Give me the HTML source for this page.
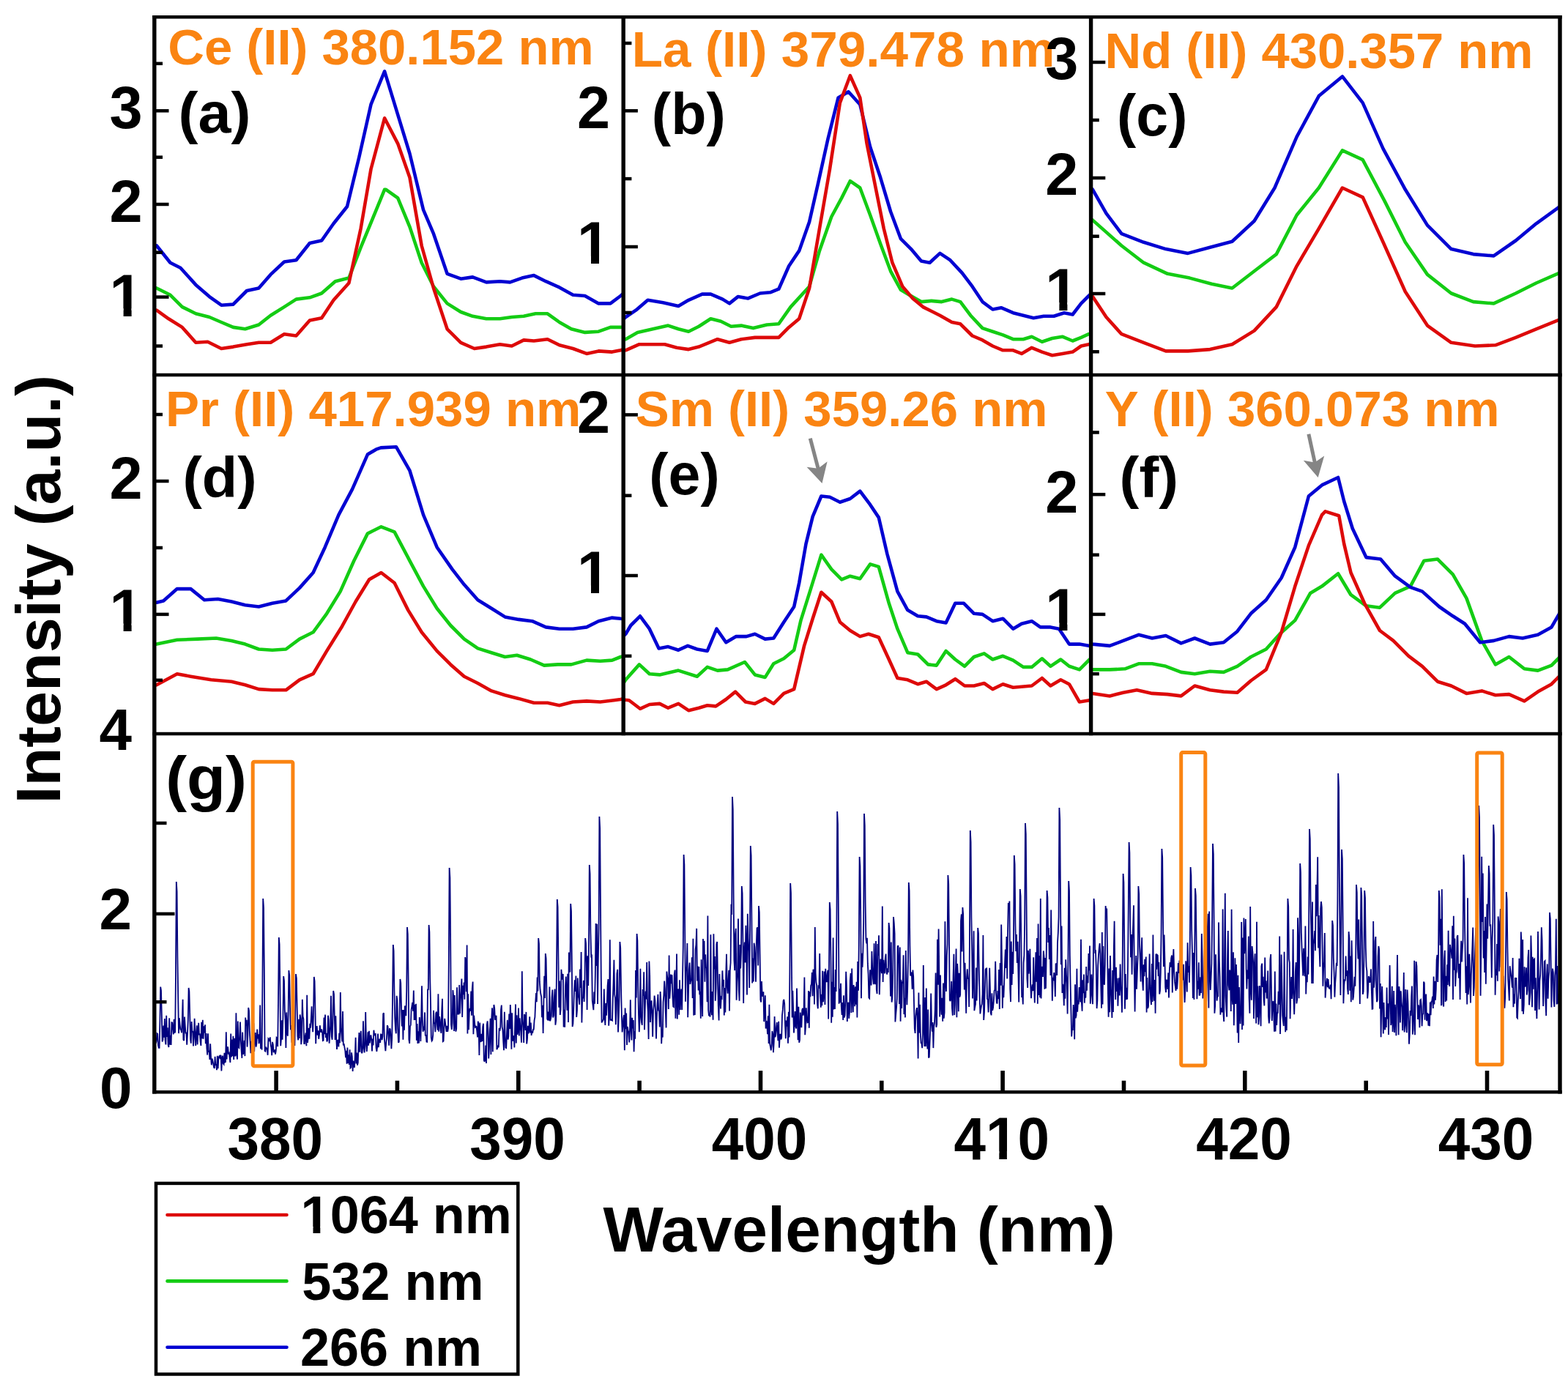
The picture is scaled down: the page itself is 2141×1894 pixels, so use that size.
<!DOCTYPE html><html><head><meta charset="utf-8"><style>html,body{margin:0;padding:0;background:#fff;}svg{display:block}text{font-family:"Liberation Sans",Arial,sans-serif;font-weight:bold}</style></head><body>
<svg width="2141" height="1894" viewBox="0 0 2141 1894">
<rect width="2141" height="1894" fill="#fff"/>
<defs>
<clipPath id="ca"><rect x="210.8" y="23.3" width="640.4000000000001" height="488.7"/></clipPath>
<clipPath id="cb"><rect x="851.2" y="23.3" width="638.3999999999999" height="488.7"/></clipPath>
<clipPath id="cc"><rect x="1489.6" y="23.3" width="640.4000000000001" height="488.7"/></clipPath>
<clipPath id="cd"><rect x="210.8" y="512.0" width="640.4000000000001" height="490.0"/></clipPath>
<clipPath id="ce"><rect x="851.2" y="512.0" width="638.3999999999999" height="490.0"/></clipPath>
<clipPath id="cf"><rect x="1489.6" y="512.0" width="640.4000000000001" height="490.0"/></clipPath>
<clipPath id="cg"><rect x="210.8" y="1002.0" width="1919.2" height="489.20000000000005"/></clipPath>
</defs>
<g clip-path="url(#ca)" fill="none" stroke-width="4.6" stroke-linejoin="round" stroke-linecap="round">
<polyline stroke="#14CC14" points="213.9,393.5 232.5,402.8 248.8,419.1 267.3,428.3 285.9,433.0 302.2,440.0 318.4,446.9 334.7,449.3 353.3,443.5 369.5,430.7 388.1,419.1 404.4,408.6 422.9,406.3 439.2,400.5 457.8,384.2 476.4,379.6 492.6,337.8 508.9,298.3 525.1,258.8 527.0,258.8 543.2,270.4 559.5,309.9 575.7,358.7 592.0,391.2 610.6,414.4 629.2,426.0 645.4,431.8 664.0,435.3 682.6,435.3 698.8,433.0 715.1,431.8 731.3,428.3 747.6,428.3 763.8,440.0 780.1,449.3 798.7,453.9 817.3,452.7 833.5,446.9 847.4,446.9 852.0,446.0"/>
<polyline stroke="#DD0A0A" points="213.9,423.7 230.2,435.3 248.8,446.9 267.3,467.8 283.6,466.7 302.2,476.0 318.4,473.6 337.0,470.2 353.3,467.8 369.5,467.8 388.1,456.2 404.4,458.5 422.9,437.6 439.2,434.2 455.5,409.8 476.4,386.5 492.6,312.2 506.5,231.0 525.1,161.3 543.2,196.1 559.5,242.6 575.7,335.5 592.0,393.5 610.6,449.3 629.2,467.8 647.7,476.0 664.0,473.6 682.6,470.2 698.8,472.5 715.1,464.4 729.0,465.5 747.6,463.2 763.8,471.3 782.4,476.0 801.0,482.9 817.3,479.4 835.8,480.6 847.4,478.3 852.0,477.0"/>
<polyline stroke="#0303D2" points="213.9,335.5 232.5,358.7 246.4,365.7 267.3,388.9 285.9,405.1 302.2,416.7 318.4,415.6 337.0,397.0 353.3,393.5 369.5,374.9 388.1,357.5 404.4,355.2 422.9,332.0 439.2,328.5 455.5,305.3 474.0,282.0 490.3,214.7 506.5,142.7 525.1,97.4 543.2,156.6 559.5,210.0 578.1,286.7 592.0,319.2 610.6,373.8 629.2,380.7 645.4,378.4 664.0,385.4 682.6,384.2 696.5,385.4 712.8,379.6 729.0,376.1 745.3,384.2 763.8,392.4 782.4,402.8 798.7,404.0 817.3,414.4 833.5,414.4 847.4,404.0 852.0,400.0"/>
</g>
<g clip-path="url(#cb)" fill="none" stroke-width="4.6" stroke-linejoin="round" stroke-linecap="round">
<polyline stroke="#14CC14" points="850.0,464.0 854.3,463.2 870.5,453.9 891.4,449.3 912.3,444.6 926.3,449.3 940.2,452.7 954.2,445.8 970.4,435.3 984.3,438.8 998.3,445.8 1012.2,444.6 1028.5,448.1 1047.0,443.5 1063.3,442.3 1079.6,419.1 1105.1,391.2 1119.0,342.4 1135.3,296.0 1149.2,270.4 1160.8,247.2 1174.3,256.5 1188.2,293.7 1202.2,333.1 1216.1,370.3 1230.0,395.8 1241.6,402.8 1257.9,412.1 1271.8,410.9 1285.8,412.1 1299.7,408.6 1311.3,412.1 1325.2,430.7 1341.5,448.1 1355.4,452.7 1369.4,457.4 1383.3,463.2 1397.2,463.2 1408.8,459.7 1422.8,466.7 1436.7,462.0 1450.6,459.7 1464.6,465.5 1476.2,460.9 1486.6,456.2 1491.0,455.0"/>
<polyline stroke="#0303D2" points="850.0,437.0 854.3,433.0 868.2,423.7 884.5,409.8 905.4,413.3 926.3,417.9 940.2,409.8 958.8,401.6 970.4,401.6 986.7,408.6 996.0,414.4 1007.6,405.1 1021.5,407.4 1037.8,400.5 1051.7,399.3 1063.3,394.7 1077.2,363.3 1091.2,342.4 1105.1,303.0 1116.7,251.9 1130.6,189.2 1144.6,133.4 1158.5,125.3 1174.3,142.7 1188.2,200.8 1202.2,242.6 1216.1,289.0 1230.0,326.2 1244.0,340.1 1257.9,356.4 1269.5,358.7 1283.4,345.9 1297.4,355.2 1313.6,372.6 1327.6,391.2 1341.5,412.1 1355.4,422.5 1367.0,420.2 1383.3,427.2 1397.2,430.7 1411.2,434.2 1425.1,431.8 1439.0,431.8 1453.0,427.2 1464.6,429.5 1476.2,414.4 1486.6,404.0 1491.0,400.0"/>
<polyline stroke="#DD0A0A" points="850.0,479.0 854.3,478.3 872.9,470.2 891.4,470.2 907.7,470.2 924.0,474.8 940.2,477.1 954.2,473.6 979.7,463.2 996.0,467.8 1012.2,463.2 1030.8,460.9 1047.0,460.9 1063.3,460.9 1077.2,446.9 1091.2,435.3 1105.1,393.5 1119.0,312.2 1133.0,231.0 1146.9,140.4 1160.8,103.2 1174.3,133.4 1183.6,196.1 1195.2,254.2 1206.8,312.2 1218.4,358.7 1232.3,391.2 1246.3,407.4 1260.2,419.1 1283.4,430.7 1299.7,440.0 1311.3,442.3 1327.6,458.5 1341.5,464.4 1355.4,472.5 1369.4,478.3 1383.3,478.3 1394.9,482.9 1408.8,474.8 1422.8,480.6 1436.7,485.2 1450.6,482.9 1464.6,480.6 1476.2,472.5 1486.6,470.2 1491.0,469.0"/>
</g>
<g clip-path="url(#cc)" fill="none" stroke-width="4.6" stroke-linejoin="round" stroke-linecap="round">
<polyline stroke="#DD0A0A" points="1488.0,402.0 1492.0,405.1 1510.5,433.0 1531.4,456.2 1561.6,467.8 1591.8,479.4 1622.0,479.4 1652.2,477.1 1682.4,470.2 1712.6,451.6 1742.8,419.1 1770.6,363.3 1800.8,312.2 1832.9,256.5 1860.7,269.3 1888.6,330.8 1918.8,398.2 1949.0,444.6 1981.5,467.8 2014.0,472.5 2041.9,471.3 2069.7,460.9 2097.6,449.3 2126.6,437.6 2131.0,436.0"/>
<polyline stroke="#14CC14" points="1488.0,298.0 1492.0,300.6 1531.4,335.5 1561.6,358.7 1594.2,373.8 1624.3,379.6 1654.5,387.7 1682.4,393.5 1712.6,370.3 1742.8,347.1 1770.6,293.7 1800.8,256.5 1832.9,205.4 1860.7,218.2 1890.9,275.1 1918.8,330.8 1949.0,374.9 1981.5,400.5 2011.7,412.1 2039.6,414.4 2069.7,400.5 2097.6,386.5 2126.6,373.8 2131.0,372.0"/>
<polyline stroke="#0303D2" points="1488.0,255.0 1492.0,258.8 1510.5,291.3 1531.4,319.2 1561.6,330.8 1591.8,340.1 1622.0,345.9 1652.2,337.8 1682.4,329.7 1712.6,301.8 1740.5,256.5 1770.6,186.8 1800.8,131.1 1832.9,104.4 1860.7,140.4 1888.6,203.1 1918.8,258.8 1949.0,307.6 1981.5,340.1 2011.7,347.1 2039.6,349.4 2069.7,328.5 2097.6,305.3 2126.6,284.4 2131.0,281.0"/>
</g>
<g clip-path="url(#cd)" fill="none" stroke-width="4.6" stroke-linejoin="round" stroke-linecap="round">
<polyline stroke="#DD0A0A" points="213.9,935.3 241.8,920.2 260.4,923.7 288.2,928.3 316.1,930.7 334.7,935.3 353.3,941.1 371.9,942.3 390.4,942.3 409.0,928.3 427.6,920.2 446.2,888.9 467.1,855.2 485.6,821.5 504.2,791.3 520.5,782.0 538.6,796.0 557.2,833.1 575.7,863.3 596.6,888.9 615.2,907.4 633.8,923.7 652.4,933.0 671.0,943.4 689.5,949.3 708.1,953.9 729.0,959.7 747.6,959.7 763.8,963.2 782.4,958.5 801.0,957.4 819.6,958.5 838.2,956.2 847.4,955.0 852.0,954.0"/>
<polyline stroke="#14CC14" points="213.9,879.6 241.8,873.8 269.7,872.6 295.2,871.5 316.1,874.9 334.7,879.6 353.3,886.5 371.9,887.7 390.4,886.5 409.0,872.6 427.6,863.3 446.2,837.8 464.7,807.6 483.3,765.8 501.9,728.6 520.5,719.3 538.6,726.3 559.5,765.8 578.1,800.6 596.6,830.8 615.2,854.0 633.8,872.6 652.4,885.4 671.0,891.2 689.5,897.0 705.8,894.7 724.4,900.5 743.0,908.6 761.5,907.4 780.1,907.4 801.0,901.6 819.6,902.8 835.8,901.6 847.4,897.0 852.0,896.0"/>
<polyline stroke="#0303D2" points="213.9,822.7 223.2,820.4 241.8,804.1 260.4,804.1 279.0,819.2 297.5,818.0 316.1,821.5 334.7,826.2 353.3,828.5 371.9,823.8 390.4,820.4 409.0,802.9 427.6,782.0 443.8,747.2 462.4,703.1 481.0,668.2 501.9,620.6 513.5,613.7 520.0,611.4 540.9,610.2 559.5,642.7 578.1,703.1 596.6,747.2 617.5,777.4 633.8,798.3 652.4,819.2 671.0,830.8 689.5,842.4 708.1,845.9 726.7,848.2 745.3,856.4 763.8,858.7 782.4,858.7 801.0,856.4 817.3,848.2 835.8,843.6 847.4,844.7 852.0,845.0"/>
</g>
<g clip-path="url(#ce)" fill="none" stroke-width="4.6" stroke-linejoin="round" stroke-linecap="round">
<polyline stroke="#DD0A0A" points="845.0,955.0 858.9,956.2 874.0,967.8 886.8,962.0 900.7,960.9 912.3,966.7 926.3,960.9 940.2,970.2 954.2,966.7 965.8,963.2 977.4,964.4 991.3,955.0 1004.1,944.6 1018.0,958.5 1030.8,960.9 1044.7,953.9 1056.3,960.9 1070.3,946.9 1084.2,941.1 1098.1,881.9 1109.7,844.7 1121.4,808.8 1135.3,821.5 1146.9,849.4 1160.8,861.0 1174.3,869.1 1185.9,865.7 1199.8,870.3 1213.8,900.5 1225.4,926.0 1239.3,928.3 1253.2,934.2 1264.9,930.7 1278.8,941.1 1291.6,935.3 1304.3,927.2 1317.1,936.5 1329.9,936.5 1343.8,933.0 1355.4,941.1 1369.4,934.2 1383.3,938.8 1408.8,936.5 1422.8,926.0 1434.4,936.5 1448.3,928.3 1459.9,934.2 1473.9,958.5 1487.8,956.2 1491.0,956.0"/>
<polyline stroke="#14CC14" points="850.0,935.0 854.3,928.3 872.9,907.4 886.8,920.2 900.7,921.4 926.3,915.6 951.8,923.7 965.8,910.9 979.7,915.6 993.6,914.4 1016.9,904.0 1030.8,921.4 1044.7,924.9 1056.3,906.3 1070.3,899.3 1084.2,887.7 1093.5,847.1 1107.4,802.9 1121.4,757.7 1135.3,777.4 1149.2,791.3 1160.8,786.7 1174.3,790.2 1188.2,770.4 1199.8,773.9 1213.8,823.8 1225.4,858.7 1239.3,891.2 1253.2,893.5 1267.2,907.4 1278.8,908.6 1291.6,888.9 1304.3,900.5 1317.1,909.8 1329.9,897.0 1343.8,892.4 1355.4,900.5 1369.4,895.8 1383.3,901.6 1397.2,910.9 1408.8,910.9 1422.8,899.3 1434.4,909.8 1448.3,900.5 1459.9,909.8 1473.9,914.4 1487.8,900.5 1491.0,898.0"/>
<polyline stroke="#0303D2" points="850.0,870.0 854.3,865.7 861.3,854.0 874.0,841.3 886.8,858.7 899.6,885.4 912.3,883.1 926.3,887.7 939.1,881.9 951.8,886.5 965.8,888.9 978.5,858.7 991.3,877.3 1005.2,869.1 1019.2,869.1 1030.8,865.7 1044.7,872.6 1056.3,871.5 1070.3,849.4 1084.2,828.5 1091.2,796.0 1100.5,742.6 1109.7,705.4 1121.4,677.5 1133.0,678.7 1146.9,685.7 1160.8,681.0 1174.3,670.6 1188.2,689.2 1199.8,706.6 1211.4,756.5 1225.4,807.6 1239.3,833.1 1253.2,841.3 1264.9,842.4 1278.8,848.2 1291.6,850.5 1304.3,823.8 1316.0,823.8 1329.9,837.8 1341.5,838.9 1355.4,848.2 1369.4,844.7 1383.3,858.7 1394.9,851.7 1408.8,848.2 1420.5,856.4 1434.4,856.4 1446.0,858.7 1459.9,879.6 1473.9,879.6 1487.8,881.9 1491.0,882.0"/>
</g>
<g clip-path="url(#cf)" fill="none" stroke-width="4.6" stroke-linejoin="round" stroke-linecap="round">
<polyline stroke="#14CC14" points="1488.0,914.0 1492.0,914.4 1515.2,914.4 1536.1,913.3 1554.7,906.3 1573.2,906.3 1591.8,909.8 1612.7,917.9 1631.3,920.2 1652.2,916.7 1670.8,917.9 1689.4,909.8 1708.0,897.0 1728.8,886.5 1747.4,865.7 1768.3,847.1 1789.2,809.9 1805.0,800.6 1827.1,783.2 1844.5,812.2 1865.4,827.3 1884.0,829.7 1904.9,809.9 1925.8,800.6 1944.3,765.8 1962.9,763.5 1983.8,784.4 2002.4,816.9 2023.3,874.9 2041.9,907.4 2060.5,897.0 2081.4,913.3 2099.9,915.6 2118.5,908.6 2126.6,900.5 2131.0,896.0"/>
<polyline stroke="#DD0A0A" points="1488.0,946.0 1492.0,946.9 1515.2,950.4 1533.8,945.8 1552.3,942.3 1573.2,946.9 1594.2,948.1 1612.7,950.4 1631.3,936.5 1652.2,942.3 1670.8,944.6 1689.4,945.8 1708.0,929.5 1728.8,914.4 1749.7,863.3 1768.3,800.6 1786.9,744.9 1805.0,703.1 1809.6,698.4 1828.2,704.2 1835.2,742.6 1844.5,782.0 1863.1,823.8 1884.0,861.0 1902.5,874.9 1923.4,895.8 1942.0,909.8 1962.9,930.7 1981.5,936.5 2002.4,946.9 2023.3,943.4 2041.9,949.3 2060.5,948.1 2081.4,957.4 2099.9,944.6 2118.5,934.2 2126.6,926.0 2131.0,922.0"/>
<polyline stroke="#0303D2" points="1488.0,879.0 1492.0,879.6 1515.2,881.9 1533.8,874.9 1554.7,866.8 1573.2,871.5 1591.8,868.0 1612.7,878.4 1631.3,871.5 1652.2,879.6 1670.8,877.3 1689.4,862.2 1708.0,837.8 1728.8,819.2 1749.7,789.0 1768.3,747.2 1786.9,677.5 1805.0,662.4 1827.1,652.0 1835.2,684.5 1846.8,721.7 1865.4,761.1 1885.1,763.5 1904.9,786.7 1925.8,801.8 1942.0,807.6 1965.2,828.5 1983.8,841.3 2000.1,851.7 2021.0,877.3 2039.6,874.9 2060.5,869.1 2079.0,871.5 2099.9,866.8 2118.5,856.4 2126.6,842.4 2131.0,835.0"/>
</g>
<g clip-path="url(#cg)"><polyline fill="none" stroke="#00007E" stroke-width="1.8" stroke-linejoin="miter" stroke-miterlimit="3" points="212.0,1424.8 212.8,1424.3 213.6,1422.1 214.4,1411.2 215.2,1411.9 216.0,1427.3 216.8,1430.8 217.6,1430.8 218.4,1394.0 219.2,1347.6 220.0,1352.7 220.8,1385.6 221.6,1422.5 222.4,1419.6 223.2,1400.6 224.0,1416.7 224.8,1391.0 225.6,1420.8 226.4,1426.4 227.2,1386.7 228.0,1416.0 228.8,1403.4 229.6,1426.6 230.4,1430.1 231.2,1390.2 232.0,1426.6 232.8,1413.7 233.6,1427.0 234.4,1396.2 235.2,1396.4 236.0,1405.7 236.8,1412.4 237.6,1391.9 238.4,1410.5 239.2,1409.0 240.0,1329.1 240.8,1204.0 241.6,1217.6 242.4,1306.3 243.2,1360.8 244.0,1411.1 244.8,1390.1 245.6,1399.0 246.4,1405.5 247.2,1406.4 248.0,1410.3 248.8,1392.7 249.6,1364.7 250.4,1419.8 251.2,1421.0 252.0,1388.5 252.8,1401.4 253.6,1411.5 254.4,1409.7 255.2,1426.7 256.0,1411.1 256.8,1393.0 257.6,1349.0 258.4,1353.8 259.2,1385.0 260.0,1418.8 260.8,1424.7 261.6,1395.0 262.4,1408.8 263.2,1408.7 264.0,1428.5 264.8,1417.2 265.6,1390.8 266.4,1410.9 267.2,1428.0 268.0,1411.7 268.8,1400.2 269.6,1426.4 270.4,1407.5 271.2,1396.8 272.0,1413.5 272.8,1411.3 273.6,1422.3 274.4,1427.9 275.2,1395.8 276.0,1418.3 276.8,1392.8 277.6,1418.6 278.4,1401.3 279.2,1410.4 280.0,1399.2 280.8,1425.2 281.6,1411.0 282.4,1431.6 283.2,1440.6 284.0,1411.3 284.8,1436.7 285.6,1434.7 286.4,1446.9 287.2,1425.4 288.0,1443.6 288.8,1454.3 289.6,1445.6 290.4,1448.5 291.2,1452.4 292.0,1457.2 292.8,1459.0 293.6,1442.9 294.4,1454.8 295.2,1453.2 296.0,1461.2 296.8,1441.7 297.6,1459.2 298.4,1445.1 299.2,1442.5 300.0,1441.8 300.8,1446.2 301.6,1440.7 302.4,1462.4 303.2,1445.3 304.0,1441.6 304.8,1452.3 305.6,1453.4 306.4,1437.7 307.2,1450.5 308.0,1450.0 308.8,1409.2 309.6,1446.4 310.4,1430.1 311.2,1430.1 312.0,1439.6 312.8,1438.3 313.6,1444.1 314.4,1451.0 315.2,1411.4 316.0,1443.4 316.8,1419.6 317.6,1442.2 318.4,1414.8 319.2,1446.9 320.0,1417.8 320.8,1442.3 321.6,1441.0 322.4,1383.2 323.2,1439.1 324.0,1446.6 324.8,1394.4 325.6,1430.2 326.4,1431.0 327.2,1416.3 328.0,1395.5 328.8,1419.6 329.6,1434.3 330.4,1444.9 331.2,1409.5 332.0,1439.9 332.8,1436.7 333.6,1420.7 334.4,1442.1 335.2,1389.6 336.0,1401.0 336.8,1392.7 337.6,1429.6 338.4,1412.2 339.2,1376.0 340.0,1380.2 340.8,1407.8 341.6,1423.5 342.4,1438.1 343.2,1421.7 344.0,1430.1 344.8,1430.9 345.6,1397.0 346.4,1397.6 347.2,1436.0 348.0,1416.4 348.8,1410.0 349.6,1429.5 350.4,1424.8 351.2,1405.6 352.0,1418.5 352.8,1412.4 353.6,1425.1 354.4,1420.3 355.2,1372.5 356.0,1432.2 356.8,1420.0 357.6,1433.6 358.4,1345.4 359.2,1227.0 360.0,1239.9 360.8,1323.9 361.6,1435.0 362.4,1435.6 363.2,1429.6 364.0,1431.9 364.8,1432.4 365.6,1440.8 366.4,1418.4 367.2,1419.3 368.0,1422.1 368.8,1416.4 369.6,1426.8 370.4,1430.6 371.2,1441.2 372.0,1422.9 372.8,1426.1 373.6,1437.3 374.4,1434.2 375.2,1434.1 376.0,1439.5 376.8,1435.0 377.6,1416.7 378.4,1417.2 379.2,1429.3 380.0,1367.1 380.8,1280.0 381.6,1289.5 382.4,1351.3 383.2,1428.2 384.0,1418.1 384.8,1393.4 385.6,1419.7 386.4,1389.7 387.2,1333.0 388.0,1339.2 388.8,1379.3 389.6,1392.8 390.4,1430.9 391.2,1382.4 392.0,1408.9 392.8,1414.7 393.6,1385.0 394.4,1325.0 395.2,1331.5 396.0,1374.1 396.8,1406.2 397.6,1400.0 398.4,1423.6 399.2,1396.7 400.0,1416.4 400.8,1417.6 401.6,1421.9 402.4,1428.0 403.2,1384.5 404.0,1330.0 404.8,1335.9 405.6,1374.5 406.4,1415.1 407.2,1420.3 408.0,1391.9 408.8,1418.0 409.6,1385.5 410.4,1390.6 411.2,1426.2 412.0,1418.4 412.8,1364.8 413.6,1388.0 414.4,1391.3 415.2,1425.0 416.0,1425.1 416.8,1414.8 417.6,1410.5 418.4,1428.2 419.2,1358.8 420.0,1424.0 420.8,1416.6 421.6,1403.9 422.4,1418.8 423.2,1397.9 424.0,1403.7 424.8,1390.9 425.6,1374.2 426.4,1395.3 427.2,1409.1 428.0,1386.2 428.8,1334.0 429.6,1339.7 430.4,1376.8 431.2,1425.2 432.0,1402.2 432.8,1402.0 433.6,1413.6 434.4,1407.2 435.2,1418.8 436.0,1412.9 436.8,1400.2 437.6,1407.2 438.4,1409.7 439.2,1405.5 440.0,1409.4 440.8,1421.0 441.6,1420.6 442.4,1389.4 443.2,1412.3 444.0,1385.6 444.8,1417.0 445.6,1410.7 446.4,1422.5 447.2,1420.2 448.0,1386.7 448.8,1393.1 449.6,1424.8 450.4,1411.8 451.2,1400.1 452.0,1359.8 452.8,1415.7 453.6,1419.8 454.4,1396.3 455.2,1353.0 456.0,1357.7 456.8,1388.4 457.6,1420.1 458.4,1387.2 459.2,1417.9 460.0,1433.0 460.8,1421.4 461.6,1419.9 462.4,1429.5 463.2,1410.9 464.0,1424.2 464.8,1355.1 465.6,1403.2 466.4,1413.0 467.2,1422.5 468.0,1381.1 468.8,1427.4 469.6,1425.2 470.4,1430.1 471.2,1434.0 472.0,1444.2 472.8,1434.9 473.6,1452.8 474.4,1430.6 475.2,1451.9 476.0,1440.3 476.8,1453.9 477.6,1433.3 478.4,1458.4 479.2,1457.6 480.0,1437.4 480.8,1442.9 481.6,1463.0 482.4,1448.6 483.2,1455.4 484.0,1457.7 484.8,1441.4 485.6,1416.7 486.4,1452.5 487.2,1437.5 488.0,1454.6 488.8,1451.1 489.6,1424.9 490.4,1410.1 491.2,1436.8 492.0,1417.2 492.8,1407.8 493.6,1436.8 494.4,1438.2 495.2,1430.5 496.0,1394.3 496.8,1429.9 497.6,1437.3 498.4,1427.8 499.2,1381.9 500.0,1421.4 500.8,1435.9 501.6,1425.5 502.4,1409.3 503.2,1427.8 504.0,1407.7 504.8,1424.5 505.6,1418.7 506.4,1413.4 507.2,1418.7 508.0,1435.5 508.8,1418.6 509.6,1427.4 510.4,1406.7 511.2,1413.3 512.0,1412.1 512.8,1411.9 513.6,1431.2 514.4,1435.9 515.2,1429.2 516.0,1411.5 516.8,1430.2 517.6,1421.9 518.4,1418.7 519.2,1423.9 520.0,1412.4 520.8,1412.6 521.6,1420.2 522.4,1415.2 523.2,1384.3 524.0,1383.2 524.8,1417.2 525.6,1426.9 526.4,1435.1 527.2,1424.7 528.0,1417.6 528.8,1400.0 529.6,1401.9 530.4,1414.9 531.2,1427.6 532.0,1404.3 532.8,1405.6 533.6,1415.4 534.4,1432.1 535.2,1418.4 536.0,1367.2 536.8,1290.0 537.6,1298.4 538.4,1353.1 539.2,1389.9 540.0,1405.2 540.8,1411.3 541.6,1359.8 542.4,1365.5 543.2,1404.2 544.0,1423.8 544.8,1422.6 545.6,1385.4 546.4,1337.0 547.2,1342.3 548.0,1376.6 548.8,1401.5 549.6,1379.1 550.4,1419.8 551.2,1379.0 552.0,1406.8 552.8,1373.4 553.6,1377.4 554.4,1387.2 555.2,1353.5 556.0,1266.0 556.8,1275.5 557.6,1337.5 558.4,1419.6 559.2,1424.9 560.0,1401.3 560.8,1399.8 561.6,1378.6 562.4,1374.3 563.2,1368.9 564.0,1380.6 564.8,1352.5 565.6,1392.9 566.4,1371.8 567.2,1392.9 568.0,1370.7 568.8,1420.7 569.6,1398.0 570.4,1424.9 571.2,1408.4 572.0,1424.5 572.8,1389.1 573.6,1401.3 574.4,1421.9 575.2,1388.1 576.0,1346.2 576.8,1392.6 577.6,1408.8 578.4,1401.6 579.2,1407.0 580.0,1382.4 580.8,1414.6 581.6,1413.0 582.4,1422.6 583.2,1422.8 584.0,1350.6 584.8,1352.1 585.6,1263.0 586.4,1272.7 587.2,1335.9 588.0,1370.5 588.8,1417.0 589.6,1421.4 590.4,1420.1 591.2,1413.2 592.0,1379.8 592.8,1396.7 593.6,1397.6 594.4,1409.3 595.2,1383.7 596.0,1381.5 596.8,1398.4 597.6,1406.6 598.4,1357.3 599.2,1408.7 600.0,1388.1 600.8,1392.9 601.6,1405.1 602.4,1410.8 603.2,1381.0 604.0,1363.7 604.8,1422.2 605.6,1421.6 606.4,1403.8 607.2,1390.8 608.0,1396.7 608.8,1402.6 609.6,1409.0 610.4,1400.9 611.2,1408.8 612.0,1404.2 612.8,1312.7 613.6,1185.0 614.4,1198.9 615.2,1289.5 616.0,1399.3 616.8,1405.9 617.6,1396.9 618.4,1352.1 619.2,1360.8 620.0,1408.0 620.8,1359.1 621.6,1398.4 622.4,1408.6 623.2,1404.9 624.0,1348.2 624.8,1384.1 625.6,1383.1 626.4,1385.6 627.2,1345.1 628.0,1384.1 628.8,1365.0 629.6,1353.6 630.4,1336.5 631.2,1388.9 632.0,1345.7 632.8,1358.2 633.6,1341.5 634.4,1364.8 635.2,1307.0 636.0,1313.3 636.8,1354.3 637.6,1290.5 638.4,1411.6 639.2,1357.3 640.0,1406.3 640.8,1383.0 641.6,1376.9 642.4,1380.5 643.2,1353.6 644.0,1386.8 644.8,1349.8 645.6,1340.6 646.4,1412.3 647.2,1386.7 648.0,1395.8 648.8,1402.9 649.6,1402.4 650.4,1401.0 651.2,1407.3 652.0,1416.5 652.8,1394.6 653.6,1402.7 654.4,1440.9 655.2,1396.5 656.0,1421.0 656.8,1423.0 657.6,1411.7 658.4,1422.0 659.2,1402.1 660.0,1397.7 660.8,1447.8 661.6,1449.7 662.4,1446.6 663.2,1427.6 664.0,1452.0 664.8,1399.5 665.6,1394.3 666.4,1405.6 667.2,1445.4 668.0,1432.0 668.8,1408.9 669.6,1390.7 670.4,1439.9 671.2,1391.7 672.0,1376.4 672.8,1436.2 673.6,1391.2 674.4,1372.0 675.2,1376.6 676.0,1392.6 676.8,1391.4 677.6,1386.7 678.4,1433.3 679.2,1431.2 680.0,1428.9 680.8,1430.2 681.6,1403.8 682.4,1407.8 683.2,1403.7 684.0,1378.7 684.8,1372.5 685.6,1402.5 686.4,1406.3 687.2,1421.7 688.0,1434.3 688.8,1381.7 689.6,1411.9 690.4,1430.6 691.2,1431.0 692.0,1412.2 692.8,1392.8 693.6,1419.5 694.4,1415.1 695.2,1384.6 696.0,1405.1 696.8,1372.1 697.6,1388.8 698.4,1432.7 699.2,1383.3 700.0,1421.7 700.8,1416.2 701.6,1414.5 702.4,1430.4 703.2,1398.2 704.0,1371.4 704.8,1424.4 705.6,1386.2 706.4,1412.8 707.2,1407.7 708.0,1376.6 708.8,1414.4 709.6,1390.2 710.4,1401.3 711.2,1408.3 712.0,1423.8 712.8,1326.2 713.6,1391.6 714.4,1404.0 715.2,1424.0 716.0,1385.1 716.8,1387.3 717.6,1407.0 718.4,1381.9 719.2,1425.4 720.0,1418.6 720.8,1400.8 721.6,1411.4 722.4,1405.1 723.2,1388.4 724.0,1410.5 724.8,1396.5 725.6,1413.9 726.4,1407.8 727.2,1410.7 728.0,1405.6 728.8,1405.6 729.6,1393.1 730.4,1389.0 731.2,1368.8 732.0,1356.0 732.8,1368.2 733.6,1334.6 734.4,1353.6 735.2,1281.0 736.0,1288.9 736.8,1340.4 737.6,1351.7 738.4,1357.5 739.2,1361.0 740.0,1389.2 740.8,1372.7 741.6,1411.0 742.4,1367.1 743.2,1332.8 744.0,1363.1 744.8,1302.0 745.6,1308.7 746.4,1351.2 747.2,1391.4 748.0,1393.1 748.8,1381.5 749.6,1393.6 750.4,1347.6 751.2,1394.4 752.0,1391.0 752.8,1387.4 753.6,1362.0 754.4,1351.6 755.2,1389.5 756.0,1386.6 756.8,1363.3 757.6,1350.6 758.4,1399.7 759.2,1393.1 760.0,1325.1 760.8,1228.0 761.6,1238.6 762.4,1307.5 763.2,1375.8 764.0,1339.4 764.8,1386.0 765.6,1378.6 766.4,1323.8 767.2,1333.6 768.0,1337.5 768.8,1329.9 769.6,1402.4 770.4,1378.7 771.2,1402.8 772.0,1346.8 772.8,1333.6 773.6,1356.5 774.4,1379.8 775.2,1329.8 776.0,1395.9 776.8,1300.5 777.6,1325.2 778.4,1327.5 779.2,1234.0 780.0,1244.2 780.8,1310.5 781.6,1402.0 782.4,1398.0 783.2,1379.7 784.0,1353.8 784.8,1338.3 785.6,1354.0 786.4,1332.5 787.2,1389.0 788.0,1379.8 788.8,1335.6 789.6,1360.2 790.4,1362.6 791.2,1371.8 792.0,1323.4 792.8,1348.9 793.6,1300.0 794.4,1396.6 795.2,1362.3 796.0,1362.4 796.8,1338.7 797.6,1368.0 798.4,1342.4 799.2,1281.0 800.0,1287.7 800.8,1315.2 801.6,1378.9 802.4,1305.2 803.2,1346.1 804.0,1293.2 804.8,1181.0 805.6,1193.2 806.4,1272.8 807.2,1306.0 808.0,1305.2 808.8,1366.4 809.6,1372.8 810.4,1379.1 811.2,1354.5 812.0,1370.7 812.8,1331.9 813.6,1261.1 814.4,1319.1 815.2,1261.8 816.0,1371.1 816.8,1311.0 817.6,1266.6 818.4,1115.0 819.2,1131.5 820.0,1239.0 820.8,1335.5 821.6,1396.4 822.4,1394.4 823.2,1393.9 824.0,1391.5 824.8,1350.5 825.6,1389.7 826.4,1400.0 827.2,1369.8 828.0,1386.6 828.8,1371.1 829.6,1346.1 830.4,1337.0 831.2,1400.7 832.0,1383.6 832.8,1283.3 833.6,1393.5 834.4,1392.4 835.2,1393.1 836.0,1393.6 836.8,1364.5 837.6,1341.5 838.4,1310.7 839.2,1358.2 840.0,1362.8 840.8,1399.3 841.6,1378.4 842.4,1329.5 843.2,1323.8 844.0,1409.4 844.8,1388.9 845.6,1361.0 846.4,1286.0 847.2,1294.2 848.0,1347.4 848.8,1384.8 849.6,1409.4 850.4,1402.2 851.2,1390.8 852.0,1385.9 852.8,1434.3 853.6,1376.6 854.4,1405.2 855.2,1383.5 856.0,1427.0 856.8,1402.0 857.6,1406.9 858.4,1410.0 859.2,1423.4 860.0,1407.0 860.8,1365.3 861.6,1403.7 862.4,1420.5 863.2,1389.7 864.0,1404.5 864.8,1393.1 865.6,1436.3 866.4,1408.2 867.2,1418.8 868.0,1325.0 868.8,1362.5 869.6,1275.0 870.4,1284.5 871.2,1346.6 872.0,1385.5 872.8,1409.1 873.6,1390.5 874.4,1322.7 875.2,1385.7 876.0,1395.9 876.8,1399.7 877.6,1351.0 878.4,1359.6 879.2,1327.2 880.0,1406.2 880.8,1375.9 881.6,1353.5 882.4,1364.4 883.2,1314.1 884.0,1368.3 884.8,1381.7 885.6,1419.0 886.4,1312.6 887.2,1332.5 888.0,1396.0 888.8,1376.1 889.6,1366.4 890.4,1384.3 891.2,1415.7 892.0,1380.2 892.8,1373.1 893.6,1359.5 894.4,1366.0 895.2,1386.1 896.0,1418.6 896.8,1389.3 897.6,1371.1 898.4,1357.7 899.2,1379.7 900.0,1381.0 900.8,1402.4 901.6,1354.0 902.4,1366.8 903.2,1425.3 904.0,1405.8 904.8,1416.6 905.6,1368.7 906.4,1358.9 907.2,1339.6 908.0,1350.4 908.8,1381.7 909.6,1403.4 910.4,1326.6 911.2,1334.5 912.0,1339.6 912.8,1377.9 913.6,1304.5 914.4,1363.6 915.2,1350.6 916.0,1330.6 916.8,1343.3 917.6,1331.2 918.4,1360.8 919.2,1374.6 920.0,1375.1 920.8,1330.5 921.6,1324.6 922.4,1390.7 923.2,1361.4 924.0,1302.4 924.8,1391.5 925.6,1352.3 926.4,1350.6 927.2,1385.7 928.0,1338.2 928.8,1379.0 929.6,1356.8 930.4,1350.6 931.2,1379.1 932.0,1336.2 932.8,1292.5 933.6,1167.0 934.4,1180.7 935.2,1269.7 936.0,1367.7 936.8,1326.4 937.6,1320.2 938.4,1288.0 939.2,1389.3 940.0,1354.2 940.8,1324.2 941.6,1314.5 942.4,1344.1 943.2,1339.5 944.0,1337.8 944.8,1307.3 945.6,1362.9 946.4,1281.8 947.2,1386.6 948.0,1369.8 948.8,1386.0 949.6,1296.6 950.4,1290.0 951.2,1267.9 952.0,1339.5 952.8,1319.5 953.6,1352.6 954.4,1319.9 955.2,1356.5 956.0,1355.6 956.8,1390.7 957.6,1310.3 958.4,1356.1 959.2,1388.1 960.0,1282.0 960.8,1310.1 961.6,1284.7 962.4,1340.7 963.2,1303.4 964.0,1320.9 964.8,1321.6 965.6,1368.3 966.4,1250.4 967.2,1379.1 968.0,1387.1 968.8,1385.2 969.6,1388.6 970.4,1276.3 971.2,1378.8 972.0,1386.2 972.8,1354.1 973.6,1392.8 974.4,1275.2 975.2,1323.5 976.0,1306.1 976.8,1366.7 977.6,1350.0 978.4,1289.0 979.2,1286.0 980.0,1338.9 980.8,1373.7 981.6,1393.5 982.4,1330.0 983.2,1364.2 984.0,1377.4 984.8,1362.0 985.6,1363.0 986.4,1325.4 987.2,1347.0 988.0,1337.8 988.8,1386.5 989.6,1349.1 990.4,1382.6 991.2,1331.9 992.0,1302.8 992.8,1347.4 993.6,1356.6 994.4,1340.1 995.2,1324.7 996.0,1380.6 996.8,1324.5 997.6,1314.7 998.4,1234.7 999.2,1249.1 1000.0,1088.0 1000.8,1105.6 1001.6,1219.8 1002.4,1311.0 1003.2,1325.2 1004.0,1276.0 1004.8,1267.8 1005.6,1365.7 1006.4,1341.5 1007.2,1328.3 1008.0,1254.5 1008.8,1351.7 1009.6,1366.7 1010.4,1290.1 1011.2,1322.4 1012.0,1300.2 1012.8,1210.0 1013.6,1219.8 1014.4,1282.1 1015.2,1369.9 1016.0,1298.6 1016.8,1286.5 1017.6,1314.5 1018.4,1263.8 1019.2,1288.5 1020.0,1358.5 1020.8,1247.7 1021.6,1281.3 1022.4,1299.6 1023.2,1348.9 1024.0,1269.2 1024.8,1155.0 1025.6,1168.2 1026.4,1253.9 1027.2,1342.4 1028.0,1308.6 1028.8,1340.6 1029.6,1287.7 1030.4,1293.0 1031.2,1312.5 1032.0,1340.7 1032.8,1289.9 1033.6,1267.2 1034.4,1266.8 1035.2,1318.4 1036.0,1237.0 1036.8,1245.9 1037.6,1303.6 1038.4,1365.5 1039.2,1368.5 1040.0,1340.1 1040.8,1360.5 1041.6,1359.4 1042.4,1354.3 1043.2,1395.1 1044.0,1380.4 1044.8,1359.2 1045.6,1404.6 1046.4,1394.0 1047.2,1396.9 1048.0,1412.1 1048.8,1387.3 1049.6,1424.9 1050.4,1371.7 1051.2,1425.3 1052.0,1429.8 1052.8,1434.3 1053.6,1427.8 1054.4,1408.0 1055.2,1411.8 1056.0,1437.2 1056.8,1422.2 1057.6,1388.1 1058.4,1416.2 1059.2,1413.8 1060.0,1403.1 1060.8,1396.0 1061.6,1408.6 1062.4,1421.3 1063.2,1394.8 1064.0,1430.7 1064.8,1415.0 1065.6,1411.9 1066.4,1419.4 1067.2,1416.9 1068.0,1386.3 1068.8,1378.9 1069.6,1366.5 1070.4,1364.8 1071.2,1370.7 1072.0,1399.2 1072.8,1418.1 1073.6,1393.6 1074.4,1401.7 1075.2,1388.3 1076.0,1424.8 1076.8,1381.8 1077.6,1416.5 1078.4,1327.6 1079.2,1206.0 1080.0,1219.3 1080.8,1305.5 1081.6,1389.4 1082.4,1352.8 1083.2,1379.8 1084.0,1410.5 1084.8,1397.8 1085.6,1381.1 1086.4,1401.5 1087.2,1404.5 1088.0,1349.5 1088.8,1384.3 1089.6,1420.3 1090.4,1374.7 1091.2,1423.8 1092.0,1420.2 1092.8,1382.5 1093.6,1394.5 1094.4,1403.2 1095.2,1379.3 1096.0,1376.9 1096.8,1386.7 1097.6,1379.3 1098.4,1334.5 1099.2,1413.2 1100.0,1402.6 1100.8,1376.4 1101.6,1391.2 1102.4,1396.5 1103.2,1396.2 1104.0,1353.0 1104.8,1403.7 1105.6,1354.3 1106.4,1361.2 1107.2,1345.6 1108.0,1343.9 1108.8,1327.9 1109.6,1360.2 1110.4,1323.8 1111.2,1327.8 1112.0,1371.4 1112.8,1266.1 1113.6,1328.8 1114.4,1341.5 1115.2,1345.7 1116.0,1370.5 1116.8,1377.3 1117.6,1345.3 1118.4,1349.6 1119.2,1302.1 1120.0,1360.6 1120.8,1375.8 1121.6,1357.7 1122.4,1373.2 1123.2,1325.8 1124.0,1368.3 1124.8,1357.0 1125.6,1326.4 1126.4,1371.9 1127.2,1322.8 1128.0,1340.1 1128.8,1340.2 1129.6,1330.2 1130.4,1324.7 1131.2,1391.4 1132.0,1322.8 1132.8,1232.0 1133.6,1241.9 1134.4,1306.3 1135.2,1396.8 1136.0,1340.7 1136.8,1388.8 1137.6,1280.5 1138.4,1378.5 1139.2,1348.1 1140.0,1378.0 1140.8,1323.9 1141.6,1353.9 1142.4,1267.0 1143.2,1108.0 1144.0,1125.3 1144.8,1238.1 1145.6,1370.8 1146.4,1350.4 1147.2,1369.1 1148.0,1342.7 1148.8,1374.3 1149.6,1385.9 1150.4,1369.0 1151.2,1393.0 1152.0,1359.2 1152.8,1389.5 1153.6,1386.2 1154.4,1365.7 1155.2,1326.8 1156.0,1348.9 1156.8,1394.9 1157.6,1371.2 1158.4,1368.9 1159.2,1390.8 1160.0,1381.9 1160.8,1338.8 1161.6,1328.9 1162.4,1383.0 1163.2,1322.6 1164.0,1360.0 1164.8,1382.3 1165.6,1345.1 1166.4,1352.7 1167.2,1374.3 1168.0,1347.3 1168.8,1371.8 1169.6,1340.8 1170.4,1389.4 1171.2,1313.0 1172.0,1352.8 1172.8,1290.2 1173.6,1170.0 1174.4,1183.1 1175.2,1248.3 1176.0,1363.3 1176.8,1301.7 1177.6,1320.6 1178.4,1298.8 1179.2,1259.5 1180.0,1111.0 1180.8,1127.2 1181.6,1232.5 1182.4,1282.2 1183.2,1288.4 1184.0,1280.8 1184.8,1315.9 1185.6,1330.2 1186.4,1362.5 1187.2,1363.4 1188.0,1324.2 1188.8,1334.0 1189.6,1345.6 1190.4,1299.1 1191.2,1321.0 1192.0,1336.5 1192.8,1344.2 1193.6,1288.2 1194.4,1341.7 1195.2,1344.0 1196.0,1285.1 1196.8,1351.2 1197.6,1357.1 1198.4,1289.1 1199.2,1304.9 1200.0,1277.2 1200.8,1358.2 1201.6,1332.7 1202.4,1309.6 1203.2,1322.1 1204.0,1329.1 1204.8,1237.4 1205.6,1340.9 1206.4,1310.7 1207.2,1325.5 1208.0,1329.4 1208.8,1308.5 1209.6,1302.6 1210.4,1327.6 1211.2,1330.6 1212.0,1322.3 1212.8,1327.9 1213.6,1260.0 1214.4,1267.6 1215.2,1317.3 1216.0,1360.4 1216.8,1286.6 1217.6,1368.6 1218.4,1363.0 1219.2,1331.2 1220.0,1252.0 1220.8,1260.6 1221.6,1275.0 1222.4,1395.5 1223.2,1385.4 1224.0,1375.9 1224.8,1363.9 1225.6,1292.8 1226.4,1291.1 1227.2,1316.0 1228.0,1371.0 1228.8,1293.5 1229.6,1394.8 1230.4,1337.8 1231.2,1377.1 1232.0,1340.3 1232.8,1342.7 1233.6,1304.3 1234.4,1385.1 1235.2,1362.9 1236.0,1389.4 1236.8,1298.1 1237.6,1345.7 1238.4,1372.2 1239.2,1350.8 1240.0,1310.6 1240.8,1205.0 1241.6,1216.5 1242.4,1291.4 1243.2,1332.6 1244.0,1328.2 1244.8,1328.4 1245.6,1350.6 1246.4,1324.6 1247.2,1333.9 1248.0,1369.8 1248.8,1404.8 1249.6,1411.0 1250.4,1387.2 1251.2,1379.3 1252.0,1376.1 1252.8,1393.4 1253.6,1445.5 1254.4,1355.5 1255.2,1410.6 1256.0,1371.8 1256.8,1410.8 1257.6,1424.2 1258.4,1424.8 1259.2,1431.2 1260.0,1412.0 1260.8,1317.9 1261.6,1401.3 1262.4,1428.9 1263.2,1362.1 1264.0,1429.0 1264.8,1349.5 1265.6,1418.6 1266.4,1432.5 1267.2,1378.4 1268.0,1444.6 1268.8,1443.2 1269.6,1422.4 1270.4,1398.2 1271.2,1356.4 1272.0,1396.4 1272.8,1408.7 1273.6,1395.9 1274.4,1431.1 1275.2,1402.3 1276.0,1396.6 1276.8,1378.2 1277.6,1328.6 1278.4,1402.7 1279.2,1398.7 1280.0,1282.7 1280.8,1344.7 1281.6,1268.5 1282.4,1329.7 1283.2,1388.4 1284.0,1331.6 1284.8,1372.2 1285.6,1385.8 1286.4,1362.7 1287.2,1394.8 1288.0,1342.4 1288.8,1390.7 1289.6,1382.6 1290.4,1258.2 1291.2,1340.4 1292.0,1353.9 1292.8,1304.6 1293.6,1289.3 1294.4,1195.0 1295.2,1207.1 1296.0,1285.9 1296.8,1365.6 1297.6,1367.2 1298.4,1362.4 1299.2,1340.1 1300.0,1376.8 1300.8,1386.8 1301.6,1333.2 1302.4,1302.7 1303.2,1386.1 1304.0,1372.0 1304.8,1328.2 1305.6,1295.6 1306.4,1389.2 1307.2,1315.9 1308.0,1331.9 1308.8,1381.2 1309.6,1328.8 1310.4,1361.4 1311.2,1358.4 1312.0,1257.6 1312.8,1248.4 1313.6,1299.6 1314.4,1239.0 1315.2,1248.5 1316.0,1310.1 1316.8,1351.5 1317.6,1314.8 1318.4,1350.1 1319.2,1383.8 1320.0,1335.6 1320.8,1323.2 1321.6,1336.0 1322.4,1336.4 1323.2,1374.9 1324.0,1278.7 1324.8,1134.0 1325.6,1149.8 1326.4,1252.4 1327.2,1297.0 1328.0,1363.6 1328.8,1330.7 1329.6,1271.2 1330.4,1380.2 1331.2,1375.2 1332.0,1371.2 1332.8,1321.5 1333.6,1366.5 1334.4,1338.5 1335.2,1267.0 1336.0,1274.8 1336.8,1325.5 1337.6,1361.1 1338.4,1384.5 1339.2,1378.7 1340.0,1373.6 1340.8,1371.1 1341.6,1357.3 1342.4,1277.1 1343.2,1392.9 1344.0,1382.2 1344.8,1352.1 1345.6,1324.0 1346.4,1322.6 1347.2,1322.4 1348.0,1364.1 1348.8,1365.4 1349.6,1382.4 1350.4,1357.7 1351.2,1321.7 1352.0,1352.3 1352.8,1383.3 1353.6,1386.4 1354.4,1356.3 1355.2,1379.7 1356.0,1376.3 1356.8,1367.8 1357.6,1353.1 1358.4,1351.6 1359.2,1312.8 1360.0,1355.7 1360.8,1368.8 1361.6,1370.5 1362.4,1353.1 1363.2,1364.1 1364.0,1323.9 1364.8,1377.9 1365.6,1315.0 1366.4,1345.8 1367.2,1262.5 1368.0,1310.0 1368.8,1376.8 1369.6,1345.8 1370.4,1362.3 1371.2,1340.5 1372.0,1316.2 1372.8,1296.5 1373.6,1322.0 1374.4,1278.9 1375.2,1336.5 1376.0,1275.7 1376.8,1233.0 1377.6,1241.5 1378.4,1230.6 1379.2,1350.3 1380.0,1368.1 1380.8,1285.4 1381.6,1345.0 1382.4,1299.8 1383.2,1330.0 1384.0,1281.3 1384.8,1168.0 1385.6,1180.4 1386.4,1260.7 1387.2,1299.1 1388.0,1276.0 1388.8,1315.1 1389.6,1285.8 1390.4,1327.8 1391.2,1368.6 1392.0,1302.0 1392.8,1214.0 1393.6,1223.6 1394.4,1286.0 1395.2,1361.9 1396.0,1356.5 1396.8,1371.4 1397.6,1314.9 1398.4,1304.7 1399.2,1261.5 1400.0,1124.0 1400.8,1139.0 1401.6,1236.5 1402.4,1335.9 1403.2,1348.9 1404.0,1297.8 1404.8,1329.7 1405.6,1315.1 1406.4,1295.7 1407.2,1344.8 1408.0,1363.1 1408.8,1351.3 1409.6,1344.4 1410.4,1353.2 1411.2,1307.2 1412.0,1345.9 1412.8,1369.5 1413.6,1334.3 1414.4,1300.2 1415.2,1340.7 1416.0,1281.0 1416.8,1370.7 1417.6,1261.6 1418.4,1359.1 1419.2,1305.1 1420.0,1362.3 1420.8,1227.1 1421.6,1363.6 1422.4,1326.3 1423.2,1319.8 1424.0,1334.0 1424.8,1298.4 1425.6,1307.4 1426.4,1350.7 1427.2,1308.1 1428.0,1349.7 1428.8,1297.0 1429.6,1216.0 1430.4,1225.5 1431.2,1287.1 1432.0,1266.9 1432.8,1310.0 1433.6,1277.1 1434.4,1332.0 1435.2,1242.5 1436.0,1320.2 1436.8,1366.8 1437.6,1336.5 1438.4,1337.5 1439.2,1328.0 1440.0,1334.1 1440.8,1361.0 1441.6,1316.2 1442.4,1316.1 1443.2,1331.9 1444.0,1287.6 1444.8,1274.1 1445.6,1252.0 1446.4,1103.0 1447.2,1119.3 1448.0,1224.9 1448.8,1317.2 1449.6,1264.6 1450.4,1355.9 1451.2,1343.9 1452.0,1351.9 1452.8,1373.3 1453.6,1321.8 1454.4,1363.7 1455.2,1310.3 1456.0,1331.1 1456.8,1343.3 1457.6,1384.5 1458.4,1315.3 1459.2,1203.0 1460.0,1216.5 1460.8,1304.5 1461.6,1344.2 1462.4,1379.2 1463.2,1415.4 1464.0,1404.4 1464.8,1407.0 1465.6,1372.1 1466.4,1387.1 1467.2,1419.3 1468.0,1344.3 1468.8,1390.3 1469.6,1386.4 1470.4,1322.7 1471.2,1381.7 1472.0,1366.2 1472.8,1371.4 1473.6,1348.9 1474.4,1348.6 1475.2,1368.4 1476.0,1282.7 1476.8,1367.1 1477.6,1380.8 1478.4,1338.2 1479.2,1356.1 1480.0,1330.6 1480.8,1369.6 1481.6,1354.4 1482.4,1362.7 1483.2,1319.9 1484.0,1352.8 1484.8,1332.2 1485.6,1342.4 1486.4,1301.9 1487.2,1325.2 1488.0,1291.5 1488.8,1370.7 1489.6,1353.6 1490.4,1330.5 1491.2,1359.9 1492.0,1371.2 1492.8,1316.1 1493.6,1227.0 1494.4,1236.7 1495.2,1299.9 1496.0,1299.0 1496.8,1322.3 1497.6,1377.1 1498.4,1366.3 1499.2,1318.6 1500.0,1304.3 1500.8,1294.9 1501.6,1288.1 1502.4,1302.6 1503.2,1344.7 1504.0,1376.7 1504.8,1272.9 1505.6,1371.4 1506.4,1292.0 1507.2,1341.4 1508.0,1344.7 1508.8,1317.6 1509.6,1237.0 1510.4,1246.1 1511.2,1240.6 1512.0,1296.7 1512.8,1350.7 1513.6,1388.7 1514.4,1322.6 1515.2,1382.3 1516.0,1305.1 1516.8,1345.7 1517.6,1368.1 1518.4,1389.9 1519.2,1325.0 1520.0,1381.9 1520.8,1297.6 1521.6,1257.8 1522.4,1331.7 1523.2,1365.1 1524.0,1320.8 1524.8,1354.0 1525.6,1335.7 1526.4,1373.7 1527.2,1351.8 1528.0,1335.4 1528.8,1359.4 1529.6,1316.4 1530.4,1347.1 1531.2,1355.1 1532.0,1382.6 1532.8,1301.8 1533.6,1193.0 1534.4,1204.9 1535.2,1282.0 1536.0,1377.8 1536.8,1330.0 1537.6,1365.2 1538.4,1348.9 1539.2,1364.8 1540.0,1318.9 1540.8,1237.8 1541.6,1150.0 1542.4,1164.3 1543.2,1257.5 1544.0,1307.3 1544.8,1276.1 1545.6,1330.8 1546.4,1282.4 1547.2,1261.9 1548.0,1236.2 1548.8,1323.4 1549.6,1381.6 1550.4,1336.1 1551.2,1305.0 1552.0,1350.8 1552.8,1328.2 1553.6,1308.4 1554.4,1210.0 1555.2,1220.7 1556.0,1290.5 1556.8,1310.8 1557.6,1340.4 1558.4,1298.6 1559.2,1280.3 1560.0,1339.1 1560.8,1352.8 1561.6,1317.3 1562.4,1333.1 1563.2,1309.7 1564.0,1327.2 1564.8,1306.5 1565.6,1382.6 1566.4,1335.1 1567.2,1377.1 1568.0,1374.4 1568.8,1348.7 1569.6,1302.6 1570.4,1345.4 1571.2,1364.5 1572.0,1372.2 1572.8,1315.9 1573.6,1368.0 1574.4,1276.6 1575.2,1355.2 1576.0,1366.8 1576.8,1338.1 1577.6,1383.7 1578.4,1302.4 1579.2,1323.8 1580.0,1303.9 1580.8,1304.7 1581.6,1332.9 1582.4,1313.7 1583.2,1357.6 1584.0,1352.8 1584.8,1328.4 1585.6,1273.1 1586.4,1159.0 1587.2,1171.4 1588.0,1252.4 1588.8,1320.1 1589.6,1276.6 1590.4,1309.2 1591.2,1348.1 1592.0,1355.1 1592.8,1337.6 1593.6,1340.8 1594.4,1351.0 1595.2,1328.4 1596.0,1362.6 1596.8,1326.0 1597.6,1314.0 1598.4,1320.6 1599.2,1308.4 1600.0,1304.4 1600.8,1355.5 1601.6,1314.0 1602.4,1296.1 1603.2,1326.7 1604.0,1340.9 1604.8,1346.8 1605.6,1353.0 1606.4,1326.8 1607.2,1350.6 1608.0,1338.0 1608.8,1315.1 1609.6,1328.9 1610.4,1311.5 1611.2,1335.4 1612.0,1316.5 1612.8,1364.6 1613.6,1313.2 1614.4,1324.8 1615.2,1338.5 1616.0,1316.8 1616.8,1345.4 1617.6,1368.9 1618.4,1351.5 1619.2,1312.3 1620.0,1323.1 1620.8,1354.4 1621.6,1287.3 1622.4,1327.8 1623.2,1319.2 1624.0,1341.7 1624.8,1289.0 1625.6,1184.0 1626.4,1195.5 1627.2,1270.0 1628.0,1301.4 1628.8,1363.0 1629.6,1301.0 1630.4,1364.9 1631.2,1302.1 1632.0,1213.0 1632.8,1222.7 1633.6,1285.9 1634.4,1364.2 1635.2,1339.5 1636.0,1350.6 1636.8,1314.3 1637.6,1359.6 1638.4,1358.3 1639.2,1334.3 1640.0,1356.0 1640.8,1275.0 1641.6,1308.4 1642.4,1363.5 1643.2,1356.7 1644.0,1326.3 1644.8,1295.8 1645.6,1339.5 1646.4,1325.8 1647.2,1367.5 1648.0,1341.0 1648.8,1268.4 1649.6,1247.8 1650.4,1376.4 1651.2,1244.4 1652.0,1326.4 1652.8,1351.9 1653.6,1334.0 1654.4,1315.9 1655.2,1250.2 1656.0,1152.0 1656.8,1166.2 1657.6,1258.6 1658.4,1383.8 1659.2,1373.2 1660.0,1303.2 1660.8,1337.7 1661.6,1366.6 1662.4,1359.0 1663.2,1361.2 1664.0,1259.6 1664.8,1309.2 1665.6,1334.1 1666.4,1385.7 1667.2,1377.3 1668.0,1378.5 1668.8,1382.4 1669.6,1241.4 1670.4,1384.7 1671.2,1395.0 1672.0,1310.5 1672.8,1219.7 1673.6,1359.9 1674.4,1378.2 1675.2,1388.6 1676.0,1313.2 1676.8,1270.9 1677.6,1345.3 1678.4,1352.3 1679.2,1324.6 1680.0,1336.8 1680.8,1381.1 1681.6,1241.8 1682.4,1361.6 1683.2,1371.6 1684.0,1300.3 1684.8,1400.3 1685.6,1357.6 1686.4,1308.2 1687.2,1370.9 1688.0,1317.0 1688.8,1350.0 1689.6,1410.5 1690.4,1331.7 1691.2,1424.0 1692.0,1347.9 1692.8,1382.4 1693.6,1398.1 1694.4,1378.1 1695.2,1259.0 1696.0,1405.9 1696.8,1280.6 1697.6,1400.6 1698.4,1253.6 1699.2,1302.1 1700.0,1284.4 1700.8,1255.0 1701.6,1322.7 1702.4,1350.5 1703.2,1324.5 1704.0,1336.8 1704.8,1278.6 1705.6,1362.6 1706.4,1383.7 1707.2,1238.1 1708.0,1350.1 1708.8,1365.8 1709.6,1292.0 1710.4,1300.0 1711.2,1314.4 1712.0,1391.1 1712.8,1318.8 1713.6,1302.2 1714.4,1364.4 1715.2,1397.5 1716.0,1258.7 1716.8,1389.2 1717.6,1346.4 1718.4,1399.2 1719.2,1389.4 1720.0,1346.1 1720.8,1365.8 1721.6,1401.3 1722.4,1319.4 1723.2,1315.6 1724.0,1347.9 1724.8,1333.7 1725.6,1365.8 1726.4,1373.4 1727.2,1307.4 1728.0,1355.5 1728.8,1339.2 1729.6,1363.4 1730.4,1360.9 1731.2,1325.5 1732.0,1387.4 1732.8,1397.5 1733.6,1389.8 1734.4,1309.7 1735.2,1303.0 1736.0,1352.9 1736.8,1394.0 1737.6,1370.5 1738.4,1367.0 1739.2,1383.3 1740.0,1408.7 1740.8,1326.4 1741.6,1408.5 1742.4,1370.6 1743.2,1400.0 1744.0,1383.0 1744.8,1382.9 1745.6,1353.8 1746.4,1371.6 1747.2,1278.6 1748.0,1412.0 1748.8,1371.2 1749.6,1303.5 1750.4,1346.0 1751.2,1386.6 1752.0,1394.3 1752.8,1401.1 1753.6,1299.8 1754.4,1384.5 1755.2,1409.2 1756.0,1388.8 1756.8,1406.9 1757.6,1328.0 1758.4,1227.0 1759.2,1238.0 1760.0,1309.6 1760.8,1314.5 1761.6,1391.2 1762.4,1355.9 1763.2,1334.0 1764.0,1364.0 1764.8,1351.9 1765.6,1268.9 1766.4,1363.0 1767.2,1385.1 1768.0,1360.4 1768.8,1327.4 1769.6,1314.0 1770.4,1370.4 1771.2,1365.0 1772.0,1253.3 1772.8,1281.4 1773.6,1363.2 1774.4,1294.5 1775.2,1179.0 1776.0,1191.6 1776.8,1273.5 1777.6,1295.5 1778.4,1313.7 1779.2,1332.4 1780.0,1294.9 1780.8,1323.0 1781.6,1333.1 1782.4,1264.4 1783.2,1357.5 1784.0,1332.1 1784.8,1341.2 1785.6,1306.4 1786.4,1330.6 1787.2,1259.0 1788.0,1132.0 1788.8,1145.9 1789.6,1235.9 1790.4,1275.2 1791.2,1343.0 1792.0,1231.6 1792.8,1343.0 1793.6,1289.3 1794.4,1282.7 1795.2,1271.1 1796.0,1298.3 1796.8,1208.0 1797.6,1251.3 1798.4,1216.6 1799.2,1170.3 1800.0,1294.4 1800.8,1250.1 1801.6,1299.0 1802.4,1320.2 1803.2,1240.9 1804.0,1231.0 1804.8,1239.0 1805.6,1291.4 1806.4,1346.8 1807.2,1321.6 1808.0,1312.8 1808.8,1273.9 1809.6,1362.6 1810.4,1350.2 1811.2,1342.1 1812.0,1335.9 1812.8,1348.3 1813.6,1337.0 1814.4,1348.6 1815.2,1349.8 1816.0,1349.8 1816.8,1344.6 1817.6,1364.3 1818.4,1319.7 1819.2,1257.0 1820.0,1263.8 1820.8,1308.3 1821.6,1328.3 1822.4,1361.6 1823.2,1342.7 1824.0,1331.1 1824.8,1314.8 1825.6,1319.0 1826.4,1229.3 1827.2,1056.0 1828.0,1074.9 1828.8,1197.8 1829.6,1282.3 1830.4,1359.0 1831.2,1276.1 1832.0,1160.0 1832.8,1172.7 1833.6,1255.0 1834.4,1370.2 1835.2,1347.0 1836.0,1337.2 1836.8,1339.4 1837.6,1305.6 1838.4,1332.9 1839.2,1325.3 1840.0,1349.6 1840.8,1357.9 1841.6,1272.2 1842.4,1281.1 1843.2,1352.8 1844.0,1305.5 1844.8,1368.2 1845.6,1284.3 1846.4,1325.4 1847.2,1365.5 1848.0,1361.1 1848.8,1349.0 1849.6,1333.7 1850.4,1346.8 1851.2,1306.9 1852.0,1208.0 1852.8,1218.8 1853.6,1288.9 1854.4,1309.5 1855.2,1255.6 1856.0,1318.1 1856.8,1370.9 1857.6,1309.3 1858.4,1212.0 1859.2,1222.6 1860.0,1291.6 1860.8,1357.7 1861.6,1354.1 1862.4,1311.1 1863.2,1216.0 1864.0,1226.4 1864.8,1293.8 1865.6,1320.0 1866.4,1326.0 1867.2,1363.5 1868.0,1354.3 1868.8,1333.0 1869.6,1335.2 1870.4,1341.9 1871.2,1338.6 1872.0,1323.4 1872.8,1351.1 1873.6,1377.8 1874.4,1377.5 1875.2,1258.0 1876.0,1348.6 1876.8,1338.2 1877.6,1285.1 1878.4,1279.1 1879.2,1351.8 1880.0,1368.3 1880.8,1365.7 1881.6,1306.4 1882.4,1292.0 1883.2,1296.7 1884.0,1377.4 1884.8,1343.0 1885.6,1416.2 1886.4,1365.0 1887.2,1346.9 1888.0,1376.6 1888.8,1411.5 1889.6,1368.9 1890.4,1402.4 1891.2,1406.3 1892.0,1389.1 1892.8,1402.9 1893.6,1348.6 1894.4,1391.5 1895.2,1370.2 1896.0,1412.9 1896.8,1375.1 1897.6,1317.9 1898.4,1354.4 1899.2,1399.9 1900.0,1394.3 1900.8,1346.7 1901.6,1409.1 1902.4,1394.6 1903.2,1353.0 1904.0,1410.0 1904.8,1371.7 1905.6,1385.1 1906.4,1414.3 1907.2,1355.2 1908.0,1304.0 1908.8,1367.8 1909.6,1413.2 1910.4,1347.1 1911.2,1356.7 1912.0,1396.6 1912.8,1353.2 1913.6,1367.8 1914.4,1375.5 1915.2,1407.3 1916.0,1377.0 1916.8,1328.1 1917.6,1409.4 1918.4,1398.4 1919.2,1350.9 1920.0,1398.5 1920.8,1410.2 1921.6,1351.6 1922.4,1367.8 1923.2,1393.7 1924.0,1425.8 1924.8,1412.0 1925.6,1379.9 1926.4,1387.2 1927.2,1361.1 1928.0,1346.5 1928.8,1412.6 1929.6,1406.1 1930.4,1384.6 1931.2,1311.7 1932.0,1413.2 1932.8,1349.4 1933.6,1313.0 1934.4,1319.1 1935.2,1359.1 1936.0,1392.1 1936.8,1372.3 1937.6,1376.9 1938.4,1403.2 1939.2,1365.8 1940.0,1365.0 1940.8,1373.9 1941.6,1401.2 1942.4,1385.5 1943.2,1384.4 1944.0,1340.6 1944.8,1342.2 1945.6,1392.7 1946.4,1363.9 1947.2,1357.4 1948.0,1394.2 1948.8,1383.2 1949.6,1385.6 1950.4,1400.7 1951.2,1384.3 1952.0,1401.2 1952.8,1368.5 1953.6,1386.2 1954.4,1367.9 1955.2,1367.0 1956.0,1360.7 1956.8,1376.9 1957.6,1333.5 1958.4,1371.4 1959.2,1339.8 1960.0,1365.7 1960.8,1351.0 1961.6,1310.9 1962.4,1303.9 1963.2,1341.1 1964.0,1307.3 1964.8,1216.0 1965.6,1226.0 1966.4,1290.7 1967.2,1254.7 1968.0,1373.3 1968.8,1214.2 1969.6,1301.5 1970.4,1371.2 1971.2,1374.5 1972.0,1311.0 1972.8,1297.8 1973.6,1367.9 1974.4,1332.7 1975.2,1366.4 1976.0,1317.3 1976.8,1344.9 1977.6,1270.8 1978.4,1335.2 1979.2,1346.9 1980.0,1289.8 1980.8,1297.2 1981.6,1298.3 1982.4,1308.6 1983.2,1264.2 1984.0,1365.0 1984.8,1250.7 1985.6,1324.8 1986.4,1281.5 1987.2,1346.9 1988.0,1329.5 1988.8,1326.8 1989.6,1279.2 1990.4,1277.1 1991.2,1322.9 1992.0,1335.7 1992.8,1316.1 1993.6,1364.9 1994.4,1305.5 1995.2,1284.8 1996.0,1313.4 1996.8,1296.4 1997.6,1282.5 1998.4,1167.0 1999.2,1179.6 2000.0,1261.5 2000.8,1310.5 2001.6,1355.9 2002.4,1319.3 2003.2,1371.6 2004.0,1226.3 2004.8,1358.2 2005.6,1346.3 2006.4,1302.8 2007.2,1342.7 2008.0,1369.5 2008.8,1330.3 2009.6,1312.8 2010.4,1292.1 2011.2,1266.5 2012.0,1360.0 2012.8,1348.5 2013.6,1315.3 2014.4,1288.3 2015.2,1267.0 2016.0,1335.9 2016.8,1235.1 2017.6,1336.6 2018.4,1233.0 2019.2,1100.0 2020.0,1116.0 2020.8,1220.0 2021.6,1359.8 2022.4,1286.9 2023.2,1169.7 2024.0,1259.1 2024.8,1192.6 2025.6,1308.6 2026.4,1271.0 2027.2,1328.1 2028.0,1252.1 2028.8,1343.7 2029.6,1298.6 2030.4,1234.4 2031.2,1281.7 2032.0,1237.6 2032.8,1182.0 2033.6,1193.0 2034.4,1264.8 2035.2,1262.2 2036.0,1290.7 2036.8,1335.3 2037.6,1282.1 2038.4,1258.0 2039.2,1126.0 2040.0,1140.4 2040.8,1234.0 2041.6,1358.8 2042.4,1323.5 2043.2,1332.0 2044.0,1289.0 2044.8,1339.8 2045.6,1251.4 2046.4,1258.5 2047.2,1326.6 2048.0,1271.9 2048.8,1240.9 2049.6,1320.8 2050.4,1303.1 2051.2,1318.6 2052.0,1353.0 2052.8,1332.5 2053.6,1355.9 2054.4,1376.7 2055.2,1361.8 2056.0,1310.3 2056.8,1218.0 2057.6,1228.1 2058.4,1293.5 2059.2,1336.7 2060.0,1350.9 2060.8,1366.5 2061.6,1319.2 2062.4,1325.3 2063.2,1331.6 2064.0,1337.6 2064.8,1348.6 2065.6,1308.0 2066.4,1375.3 2067.2,1357.5 2068.0,1370.6 2068.8,1334.9 2069.6,1338.4 2070.4,1335.1 2071.2,1389.4 2072.0,1390.4 2072.8,1365.6 2073.6,1354.0 2074.4,1308.7 2075.2,1339.1 2076.0,1364.1 2076.8,1272.5 2077.6,1292.2 2078.4,1381.1 2079.2,1283.1 2080.0,1384.7 2080.8,1372.0 2081.6,1320.3 2082.4,1347.5 2083.2,1344.7 2084.0,1321.2 2084.8,1358.6 2085.6,1351.9 2086.4,1308.0 2087.2,1297.1 2088.0,1372.3 2088.8,1364.7 2089.6,1355.4 2090.4,1277.4 2091.2,1308.0 2092.0,1375.2 2092.8,1306.8 2093.6,1350.7 2094.4,1310.3 2095.2,1309.5 2096.0,1380.1 2096.8,1335.2 2097.6,1368.4 2098.4,1391.1 2099.2,1348.9 2100.0,1272.1 2100.8,1335.5 2101.6,1378.5 2102.4,1339.5 2103.2,1331.2 2104.0,1308.5 2104.8,1266.2 2105.6,1284.4 2106.4,1336.4 2107.2,1374.0 2108.0,1345.8 2108.8,1313.2 2109.6,1312.2 2110.4,1368.4 2111.2,1387.1 2112.0,1332.7 2112.8,1316.4 2113.6,1363.7 2114.4,1337.8 2115.2,1326.8 2116.0,1246.0 2116.8,1254.8 2117.6,1312.1 2118.4,1375.6 2119.2,1337.5 2120.0,1322.6 2120.8,1327.8 2121.6,1366.3 2122.4,1374.9 2123.2,1332.2 2124.0,1322.4 2124.8,1254.8 2125.6,1371.4 2126.4,1319.1 2127.2,1370.8 2128.0,1357.3"/></g>
<rect x="345.2" y="1040.3" width="54.69999999999999" height="415.5" rx="2" fill="none" stroke="#FA8412" stroke-width="5"/>
<rect x="1612.7" y="1027.6" width="33.09999999999991" height="427.4000000000001" rx="2" fill="none" stroke="#FA8412" stroke-width="5"/>
<rect x="2016.7" y="1027.9" width="34.49999999999977" height="425.89999999999986" rx="2" fill="none" stroke="#FA8412" stroke-width="5"/>
<line x1="1106.3" y1="598.6" x2="1119.8" y2="649.9" stroke="#858585" stroke-width="5"/>
<polygon fill="#858585" points="1122.5,660.1 1101.6,637.7 1117.1,639.7 1129.6,630.3"/>
<line x1="1786.9" y1="592.8" x2="1797.5" y2="641.7" stroke="#858585" stroke-width="5"/>
<polygon fill="#858585" points="1799.7,652.0 1779.8,628.7 1795.2,631.4 1808.2,622.5"/>
<text x="229.3" y="87.7" font-size="69" fill="#FA8412" textLength="581.3" lengthAdjust="spacingAndGlyphs">Ce (II) 380.152 nm</text>
<text x="862.8" y="90.9" font-size="69" fill="#FA8412" textLength="577.5" lengthAdjust="spacingAndGlyphs">La (II) 379.478 nm</text>
<text x="1508.5" y="92.9" font-size="69" fill="#FA8412" textLength="585.0" lengthAdjust="spacingAndGlyphs">Nd (II) 430.357 nm</text>
<text x="226.0" y="582.4" font-size="69" fill="#FA8412" textLength="567.4" lengthAdjust="spacingAndGlyphs">Pr (II) 417.939 nm</text>
<text x="867.7" y="582.4" font-size="69" fill="#FA8412" textLength="562.8" lengthAdjust="spacingAndGlyphs">Sm (II) 359.26 nm</text>
<text x="1508.7" y="582.4" font-size="69" fill="#FA8412" textLength="538.9" lengthAdjust="spacingAndGlyphs">Y (II) 360.073 nm</text>
<text x="243.6" y="181.1" font-size="78" fill="#000" textLength="99.0" lengthAdjust="spacingAndGlyphs">(a)</text>
<text x="889.8" y="182.8" font-size="79" fill="#000" textLength="101.0" lengthAdjust="spacingAndGlyphs">(b)</text>
<text x="1525.1" y="185.3" font-size="79" fill="#000" textLength="96.4" lengthAdjust="spacingAndGlyphs">(c)</text>
<text x="249.4" y="678.8" font-size="78" fill="#000" textLength="101.2" lengthAdjust="spacingAndGlyphs">(d)</text>
<text x="886.3" y="674.9" font-size="79" fill="#000" textLength="96.4" lengthAdjust="spacingAndGlyphs">(e)</text>
<text x="1528.6" y="678.8" font-size="78" fill="#000" textLength="80.4" lengthAdjust="spacingAndGlyphs">(f)</text>
<text x="226.2" y="1091.9" font-size="84" fill="#000" textLength="110.7" lengthAdjust="spacingAndGlyphs">(g)</text>
<g stroke="#000" fill="none">
<line x1="208.10000000000002" y1="23.3" x2="2132.7" y2="23.3" stroke-width="4.6"/>
<line x1="208.10000000000002" y1="512.0" x2="2132.7" y2="512.0" stroke-width="4.6"/>
<line x1="208.10000000000002" y1="1002.0" x2="2132.7" y2="1002.0" stroke-width="4.6"/>
<line x1="208.10000000000002" y1="1491.2" x2="2132.7" y2="1491.2" stroke-width="4.6"/>
<line x1="210.8" y1="21.0" x2="210.8" y2="1493.5" stroke-width="5.4"/>
<line x1="2130.0" y1="21.0" x2="2130.0" y2="1493.5" stroke-width="5.4"/>
<line x1="851.2" y1="21.0" x2="851.2" y2="1004.3" stroke-width="5.4"/>
<line x1="1489.6" y1="21.0" x2="1489.6" y2="1004.3" stroke-width="5.4"/>
</g>
<g stroke="#000" stroke-width="4.5">
<line x1="210.8" y1="151.3" x2="230.5" y2="151.3"/>
<line x1="210.8" y1="279.0" x2="230.5" y2="279.0"/>
<line x1="210.8" y1="405.6" x2="230.5" y2="405.6"/>
<line x1="210.8" y1="86.8" x2="222.0" y2="86.8"/>
<line x1="210.8" y1="214.7" x2="222.0" y2="214.7"/>
<line x1="210.8" y1="344.7" x2="222.0" y2="344.7"/>
<line x1="210.8" y1="472.5" x2="222.0" y2="472.5"/>
<line x1="851.2" y1="151.3" x2="870.9000000000001" y2="151.3"/>
<line x1="851.2" y1="337.0" x2="870.9000000000001" y2="337.0"/>
<line x1="851.2" y1="59.0" x2="862.4000000000001" y2="59.0"/>
<line x1="851.2" y1="244.1" x2="862.4000000000001" y2="244.1"/>
<line x1="851.2" y1="426.9" x2="862.4000000000001" y2="426.9"/>
<line x1="1489.6" y1="85.0" x2="1509.3" y2="85.0"/>
<line x1="1489.6" y1="243.0" x2="1509.3" y2="243.0"/>
<line x1="1489.6" y1="401.0" x2="1509.3" y2="401.0"/>
<line x1="1489.6" y1="164.0" x2="1500.8" y2="164.0"/>
<line x1="1489.6" y1="322.7" x2="1500.8" y2="322.7"/>
<line x1="1489.6" y1="480.3" x2="1500.8" y2="480.3"/>
<line x1="210.8" y1="657.0" x2="230.5" y2="657.0"/>
<line x1="210.8" y1="838.9" x2="230.5" y2="838.9"/>
<line x1="210.8" y1="566.0" x2="222.0" y2="566.0"/>
<line x1="210.8" y1="748.0" x2="222.0" y2="748.0"/>
<line x1="210.8" y1="928.8" x2="222.0" y2="928.8"/>
<line x1="851.2" y1="566.4" x2="870.9000000000001" y2="566.4"/>
<line x1="851.2" y1="786.0" x2="870.9000000000001" y2="786.0"/>
<line x1="851.2" y1="676.7" x2="862.4000000000001" y2="676.7"/>
<line x1="851.2" y1="895.8" x2="862.4000000000001" y2="895.8"/>
<line x1="1489.6" y1="675.2" x2="1509.3" y2="675.2"/>
<line x1="1489.6" y1="838.9" x2="1509.3" y2="838.9"/>
<line x1="1489.6" y1="590.5" x2="1500.8" y2="590.5"/>
<line x1="1489.6" y1="757.7" x2="1500.8" y2="757.7"/>
<line x1="1489.6" y1="920.2" x2="1500.8" y2="920.2"/>
<line x1="210.8" y1="1247.9" x2="238.5" y2="1247.9"/>
<line x1="210.8" y1="1124.0" x2="227.5" y2="1124.0"/>
<line x1="210.8" y1="1368.2" x2="227.5" y2="1368.2"/>
<line x1="377.1" y1="1491.2" x2="377.1" y2="1462.1000000000001" stroke-width="5.6"/>
<line x1="707.8" y1="1491.2" x2="707.8" y2="1462.1000000000001" stroke-width="5.6"/>
<line x1="1038.5" y1="1491.2" x2="1038.5" y2="1462.1000000000001" stroke-width="5.6"/>
<line x1="1369.1" y1="1491.2" x2="1369.1" y2="1462.1000000000001" stroke-width="5.6"/>
<line x1="1699.8" y1="1491.2" x2="1699.8" y2="1462.1000000000001" stroke-width="5.6"/>
<line x1="2030.5" y1="1491.2" x2="2030.5" y2="1462.1000000000001" stroke-width="5.6"/>
<line x1="542.4" y1="1491.2" x2="542.4" y2="1475.7" stroke-width="5.6"/>
<line x1="873.1" y1="1491.2" x2="873.1" y2="1475.7" stroke-width="5.6"/>
<line x1="1203.8" y1="1491.2" x2="1203.8" y2="1475.7" stroke-width="5.6"/>
<line x1="1534.5" y1="1491.2" x2="1534.5" y2="1475.7" stroke-width="5.6"/>
<line x1="1865.2" y1="1491.2" x2="1865.2" y2="1475.7" stroke-width="5.6"/>
</g>
<text x="194.6" y="174.5" font-size="81" fill="#000" text-anchor="end">3</text>
<text x="194.6" y="303.0" font-size="81" fill="#000" text-anchor="end">2</text>
<clipPath id="f1_1"><rect x="0" y="0" width="3000" height="421.2"/><rect x="0" y="421.1" width="153.1" height="100"/><rect x="168.6" y="421.1" width="11.0" height="100"/><rect x="193.6" y="421.1" width="3000" height="100"/></clipPath>
<text x="194.6" y="431.7" font-size="81" fill="#000" text-anchor="end" clip-path="url(#f1_1)">1</text>
<text x="833.0" y="175.4" font-size="81" fill="#000" text-anchor="end">2</text>
<clipPath id="f1_2"><rect x="0" y="0" width="3000" height="349.7"/><rect x="0" y="349.6" width="791.5" height="100"/><rect x="807.0" y="349.6" width="11.0" height="100"/><rect x="832.0" y="349.6" width="3000" height="100"/></clipPath>
<text x="833.0" y="360.2" font-size="81" fill="#000" text-anchor="end" clip-path="url(#f1_2)">1</text>
<text x="1472.4" y="107.5" font-size="81" fill="#000" text-anchor="end">3</text>
<text x="1472.4" y="266.0" font-size="81" fill="#000" text-anchor="end">2</text>
<clipPath id="f1_3"><rect x="0" y="0" width="3000" height="413.1"/><rect x="0" y="413.0" width="1430.9" height="100"/><rect x="1446.4" y="413.0" width="11.0" height="100"/><rect x="1471.4" y="413.0" width="3000" height="100"/></clipPath>
<text x="1472.4" y="423.6" font-size="81" fill="#000" text-anchor="end" clip-path="url(#f1_3)">1</text>
<text x="194.6" y="681.2" font-size="81" fill="#000" text-anchor="end">2</text>
<clipPath id="f1_4"><rect x="0" y="0" width="3000" height="851.6"/><rect x="0" y="851.5" width="153.1" height="100"/><rect x="168.6" y="851.5" width="11.0" height="100"/><rect x="193.6" y="851.5" width="3000" height="100"/></clipPath>
<text x="194.6" y="862.1" font-size="81" fill="#000" text-anchor="end" clip-path="url(#f1_4)">1</text>
<text x="833.0" y="590.6" font-size="81" fill="#000" text-anchor="end">2</text>
<clipPath id="f1_5"><rect x="0" y="0" width="3000" height="799.6"/><rect x="0" y="799.5" width="791.5" height="100"/><rect x="807.0" y="799.5" width="11.0" height="100"/><rect x="832.0" y="799.5" width="3000" height="100"/></clipPath>
<text x="833.0" y="810.1" font-size="81" fill="#000" text-anchor="end" clip-path="url(#f1_5)">1</text>
<text x="1472.4" y="699.6" font-size="81" fill="#000" text-anchor="end">2</text>
<clipPath id="f1_6"><rect x="0" y="0" width="3000" height="850.5"/><rect x="0" y="850.4" width="1430.9" height="100"/><rect x="1446.4" y="850.4" width="11.0" height="100"/><rect x="1471.4" y="850.4" width="3000" height="100"/></clipPath>
<text x="1472.4" y="861.0" font-size="81" fill="#000" text-anchor="end" clip-path="url(#f1_6)">1</text>
<text x="180.0" y="1023.5" font-size="80" fill="#000" text-anchor="end">4</text>
<text x="180.0" y="1269.1" font-size="80" fill="#000" text-anchor="end">2</text>
<text x="180.5" y="1513.0" font-size="80" fill="#000" text-anchor="end">0</text>
<text x="375.7" y="1582.5" font-size="81" fill="#000" text-anchor="middle" textLength="130.5" lengthAdjust="spacingAndGlyphs">380</text>
<text x="706.4" y="1582.5" font-size="81" fill="#000" text-anchor="middle" textLength="130.5" lengthAdjust="spacingAndGlyphs">390</text>
<text x="1037.1" y="1582.5" font-size="81" fill="#000" text-anchor="middle" textLength="130.5" lengthAdjust="spacingAndGlyphs">400</text>
<clipPath id="f1_7"><rect x="0" y="0" width="3000" height="1572.0"/><rect x="0" y="1571.9" width="1349.4" height="100"/><rect x="1364.3" y="1571.9" width="10.6" height="100"/><rect x="1388.5" y="1571.9" width="3000" height="100"/></clipPath>
<text x="1367.7" y="1582.5" font-size="81" fill="#000" text-anchor="middle" textLength="130.5" lengthAdjust="spacingAndGlyphs" clip-path="url(#f1_7)">410</text>
<text x="1698.4" y="1582.5" font-size="81" fill="#000" text-anchor="middle" textLength="130.5" lengthAdjust="spacingAndGlyphs">420</text>
<text x="2029.1" y="1582.5" font-size="81" fill="#000" text-anchor="middle" textLength="130.5" lengthAdjust="spacingAndGlyphs">430</text>
<text x="823.5" y="1708.7" font-size="88" fill="#000" textLength="699.2" lengthAdjust="spacingAndGlyphs">Wavelength (nm)</text>
<text transform="translate(81.6,1097.5) rotate(-90)" x="0" y="0" font-size="86" textLength="585.5" lengthAdjust="spacingAndGlyphs">Intensity (a.u.)</text>
<rect x="213" y="1615.9" width="494.29999999999995" height="260.5999999999999" fill="none" stroke="#000" stroke-width="4.5"/>
<line x1="228.5" y1="1659" x2="391.5" y2="1659" stroke="#DD0A0A" stroke-width="4.6" stroke-linecap="round"/>
<line x1="228.5" y1="1749.4" x2="391.5" y2="1749.4" stroke="#14CC14" stroke-width="4.6" stroke-linecap="round"/>
<line x1="228.5" y1="1839.8" x2="391.5" y2="1839.8" stroke="#0303D2" stroke-width="4.6" stroke-linecap="round"/>
<clipPath id="f1_8"><rect x="0" y="0" width="3000" height="1675.0"/><rect x="0" y="1674.9" width="413.7" height="100"/><rect x="427.5" y="1674.9" width="9.8" height="100"/><rect x="449.7" y="1674.9" width="3000" height="100"/></clipPath>
<text x="410.6" y="1684.3" font-size="72" fill="#000" clip-path="url(#f1_8)">1064 nm</text>
<text x="412.3" y="1775.0" font-size="72" fill="#000">532 nm</text>
<text x="410.0" y="1864.5" font-size="72" fill="#000">266 nm</text>
</svg></body></html>
